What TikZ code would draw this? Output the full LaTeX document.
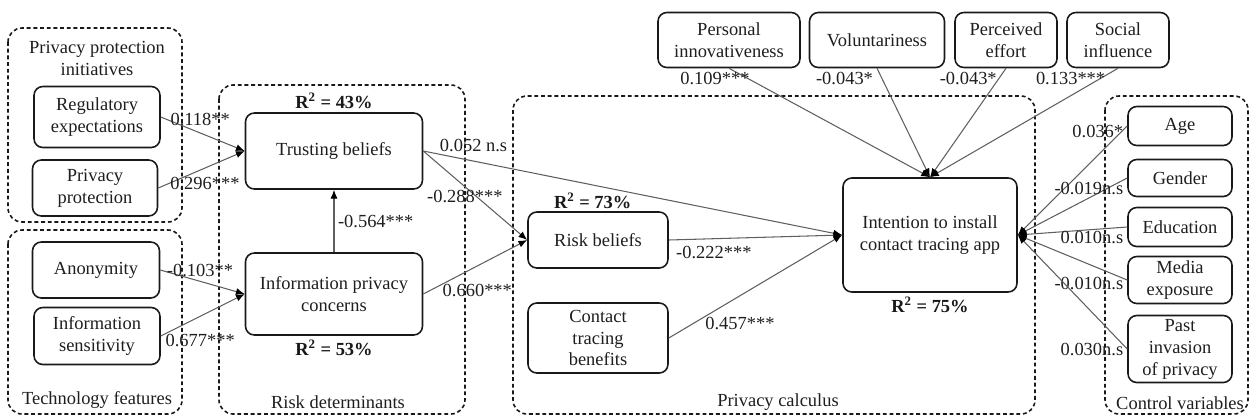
\documentclass[tikz,border=0pt]{standalone}
\usepackage{fontspec}
\setmainfont{Liberation Serif}
\usepackage{tikz}
\usetikzlibrary{arrows.meta, positioning}
\definecolor{framecolor}{RGB}{25, 25, 25}
\definecolor{linkcolor}{RGB}{95, 95, 95}
\definecolor{textcolor}{RGB}{30, 30, 30}

\begin{document}
\begin{tikzpicture}[
    x=0.02cm, y=-0.02cm,
    font=\rmfamily\fontsize{10.5}{12.5}\selectfont,
    construct/.style={draw=framecolor, line width=0.9pt, rounded corners=5pt, align=center, text=textcolor, inner sep=2pt},
    group/.style={draw=framecolor, line width=0.9pt, dash pattern=on 2.2pt off 1.6pt, rounded corners=8pt},
    grouplabel/.style={text=textcolor, align=center, inner sep=1pt},
    rsq/.style={font=\rmfamily\fontsize{10.5}{12.5}\selectfont\bfseries, text=framecolor, inner sep=1pt},
    link/.style={draw=linkcolor, line width=0.6pt, -{Latex[length=5pt, width=4pt, color=black]}},
    lbl/.style={text=textcolor, inner sep=2pt}
]
    \useasboundingbox (0,0) rectangle (1250,417);

    % Groups
    \draw[group] (8,28) rectangle (182,222);
    \draw[group] (8,230) rectangle (182,414);
    \draw[group] (219,85) rectangle (465,414);
    \draw[group] (513,96) rectangle (1035,414);
    \draw[group] (1105,96) rectangle (1248,414);

    \node[grouplabel] (ppilabel) at (97,58) {Privacy protection\\initiatives};
    \node[grouplabel] (techlabel) at (97,400) {Technology features};
    \node[grouplabel] (rdlabel) at (338,402) {Risk determinants};
    \node[grouplabel] (pclabel) at (778,402) {Privacy calculus};
    \node[grouplabel] (cvlabel) at (1180,403) {Control variables};

    % Antecedents
    \node[construct, minimum width=2.52cm, minimum height=1.22cm] (regexp) at (97,117) {Regulatory\\expectations};
    \node[construct, minimum width=2.5cm, minimum height=1.12cm] (privprot) at (95,188) {Privacy\\protection};
    \node[construct, minimum width=2.54cm, minimum height=1.12cm] (anon) at (96,270) {Anonymity};
    \node[construct, minimum width=2.52cm, minimum height=1.14cm] (infosens) at (97,336) {Information\\sensitivity};

    % Risk determinants
    \node[construct, minimum width=3.54cm, minimum height=1.52cm] (trust) at (334,151) {Trusting beliefs};
    \node[construct, minimum width=3.54cm, minimum height=1.64cm] (ipc) at (334,294) {Information privacy\\concerns};
    \node[rsq, above=1pt of trust] (trustrsq) {R\textsuperscript{2} = 43\%};
    \node[rsq, below=1pt of ipc] (ipcrsq) {R\textsuperscript{2} = 53\%};

    % Privacy calculus
    \node[construct, minimum width=2.8cm, minimum height=1.12cm] (risk) at (598,240) {Risk beliefs};
    \node[construct, minimum width=2.8cm, minimum height=1.4cm] (ctb) at (598,338) {Contact\\tracing\\benefits};
    \node[construct, minimum width=3.48cm, minimum height=2.28cm] (intent) at (930,235) {Intention to install\\contact tracing app};
    \node[rsq, above=0pt of risk, xshift=-3pt] (riskrsq) {R\textsuperscript{2} = 73\%};
    \node[rsq, below=1pt of intent] (intentrsq) {R\textsuperscript{2} = 75\%};

    % Top predictors
    \node[construct, minimum width=2.84cm, minimum height=1.1cm] (pinn) at (729,40) {Personal\\innovativeness};
    \node[construct, minimum width=2.7cm, minimum height=1.1cm] (volun) at (877,40) {Voluntariness};
    \node[construct, minimum width=2.04cm, minimum height=1.1cm] (peff) at (1006,40) {Perceived\\effort};
    \node[construct, minimum width=2.04cm, minimum height=1.1cm] (social) at (1118,40) {Social\\influence};

    % Control variables
    \node[construct, minimum width=2.08cm, minimum height=0.78cm] (age) at (1180,126) {Age};
    \node[construct, minimum width=2.08cm, minimum height=0.74cm] (gender) at (1180,178) {Gender};
    \node[construct, minimum width=2.08cm, minimum height=0.78cm] (educ) at (1180,227) {Education};
    \node[construct, minimum width=2.08cm, minimum height=0.94cm] (media) at (1180,280) {Media\\exposure};
    \node[construct, minimum width=2.08cm, minimum height=1.3cm] (past) at (1180,349) {Past\\invasion\\of privacy};

    % Paths
    \draw[link] (regexp.east) -- (trust.west) node[lbl, pos=0.47, above=2pt] {0.118**};
    \draw[link] (privprot.east) -- (trust.west) node[lbl, pos=0.54, below=3pt] {0.296***};
    \draw[link] (anon.east) -- (ipc.west) node[lbl, pos=0.47, above] {-0.103**};
    \draw[link] (infosens.east) -- (ipc.west) node[lbl, pos=0.47, below=8pt] {0.677***};
    \draw[link] (ipc.north) -- (trust.south) node[lbl, midway, right] {-0.564***};
    \draw[link] (trust.east) -- (intent.west) node[lbl, pos=0.12, above=3pt] {0.052 n.s};
    \draw[link] (trust.east) -- (risk.west) node[lbl, pos=0.4, below] {-0.288***};
    \draw[link] (ipc.east) -- (risk.west) node[lbl, pos=0.52, below=8pt] {0.660***};
    \draw[link] (risk.east) -- (intent.west) node[lbl, pos=0.26, below=2pt] {-0.222***};
    \draw[link] (ctb.east) -- (intent.west) node[lbl, pos=0.41, below=10pt] {0.457***};

    \draw[link] (pinn.south) -- (intent.north) node[lbl, pos=0, below, xshift=-8pt] {0.109***};
    \draw[link] (volun.south) -- (intent.north) node[lbl, pos=0, below left] {-0.043*};
    \draw[link] (peff.south) -- (intent.north) node[lbl, pos=0, below left, xshift=-3pt] {-0.043*};
    \draw[link] (social.south) -- (intent.north) node[lbl, pos=0, below left, xshift=-5pt] {0.133***};

    \draw[link] (age.west) -- (intent.east) node[lbl, pos=0, left, yshift=-3pt] {0.036*};
    \draw[link] (gender.west) -- (intent.east) node[lbl, pos=0, below left] {-0.019n.s};
    \draw[link] (educ.west) -- (intent.east) node[lbl, pos=0, below left] {0.010n.s};
    \draw[link] (media.west) -- (intent.east) node[lbl, pos=0, left, yshift=-2pt] {-0.010n.s};
    \draw[link] (past.west) -- (intent.east) node[lbl, pos=0, left] {0.030n.s};
\end{tikzpicture}
\end{document}
